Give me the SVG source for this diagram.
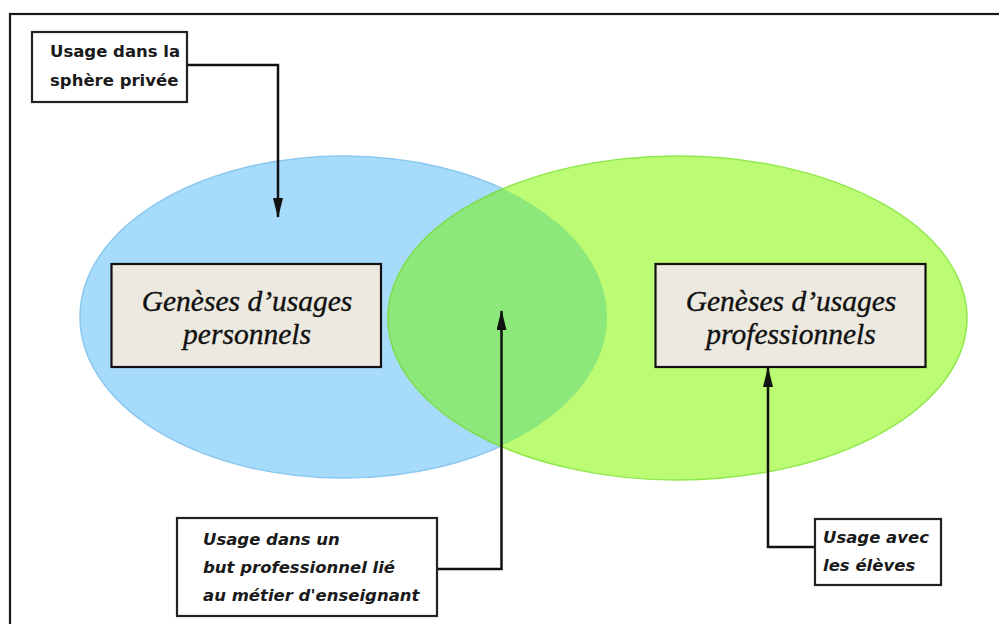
<svg xmlns="http://www.w3.org/2000/svg" width="999" height="624" viewBox="0 0 999 624">
  <defs>
    <style>
      .frame { fill: none; stroke: #1a1a1a; stroke-width: 2.2; }
      .mainbox { fill: #ece9e0; stroke: #111; stroke-width: 2.2; }
      .label { fill: #fff; stroke: #222; stroke-width: 2.2; }
      .maintxt { font-family: "Liberation Serif", "Times New Roman", serif; font-style: italic; font-size: 29.5px; fill: #111; stroke: #111; stroke-width: 0.35; text-anchor: middle; }
      .lbl { font-family: "DejaVu Sans", "Liberation Sans", sans-serif; font-weight: bold; font-size: 16.5px; fill: #1a1a1a; }
      .lbli { font-style: italic; }
      .conn { fill: none; stroke: #111; stroke-width: 2.5; }
    </style>
    <marker id="arrow" viewBox="0 0 20 10" refX="19" refY="5" markerWidth="20" markerHeight="10" markerUnits="userSpaceOnUse" orient="auto">
      <path d="M0,0 L20,5 L0,10 Z" fill="#111"/>
    </marker>
    <clipPath id="blueClip">
      <ellipse cx="343.5" cy="317" rx="263.5" ry="161"/>
    </clipPath>
  </defs>

  <rect x="0" y="0" width="999" height="624" fill="#ffffff"/>
  <rect class="frame" x="10" y="14" width="1000" height="620"/>

  <g id="sets">
    <ellipse id="set-personnel" cx="343.5" cy="317" rx="263.5" ry="161" fill="#a7dbfb" stroke="#8cc8ef" stroke-width="1.5"/>
    <ellipse id="set-professionnel" cx="677.5" cy="318" rx="289.5" ry="162" fill="#bcfb74" stroke="#8fe84c" stroke-width="1.5"/>
    <ellipse id="set-overlap" cx="677.5" cy="318" rx="289.5" ry="162" fill="#8ce87a" stroke="#7ddc55" stroke-width="1.5" clip-path="url(#blueClip)"/>
  </g>

  <g id="connectors">
    <path class="conn" d="M187,65 H278 V217" marker-end="url(#arrow)"/>
    <path class="conn" d="M437,569 H501.5 V311" marker-end="url(#arrow)"/>
    <path class="conn" d="M815,547 H768 V368" marker-end="url(#arrow)"/>
  </g>

  <g id="node-personnels">
    <rect class="mainbox" x="111.5" y="264" width="269.5" height="103"/>
    <text class="maintxt" x="247" y="311">Genèses d’usages</text>
    <text class="maintxt" x="247" y="344">personnels</text>
  </g>

  <g id="node-professionnels">
    <rect class="mainbox" x="655.5" y="264" width="270" height="103"/>
    <text class="maintxt" x="791" y="311">Genèses d’usages</text>
    <text class="maintxt" x="791" y="344">professionnels</text>
  </g>

  <g id="node-sphere-privee">
    <rect class="label" x="32" y="32" width="155" height="70"/>
    <text class="lbl" x="50" y="57">Usage dans la</text>
    <text class="lbl" x="50" y="86">sphère privée</text>
  </g>

  <g id="node-but-professionnel">
    <rect class="label" x="177" y="518" width="260" height="98"/>
    <text class="lbl lbli" x="203" y="545">Usage dans un</text>
    <text class="lbl lbli" x="203" y="573">but professionnel lié</text>
    <text class="lbl lbli" x="203" y="601">au métier d'enseignant</text>
  </g>

  <g id="node-eleves">
    <rect class="label" x="815" y="519" width="126" height="66"/>
    <text class="lbl lbli" x="823" y="543">Usage avec</text>
    <text class="lbl lbli" x="823" y="571">les élèves</text>
  </g>
</svg>
